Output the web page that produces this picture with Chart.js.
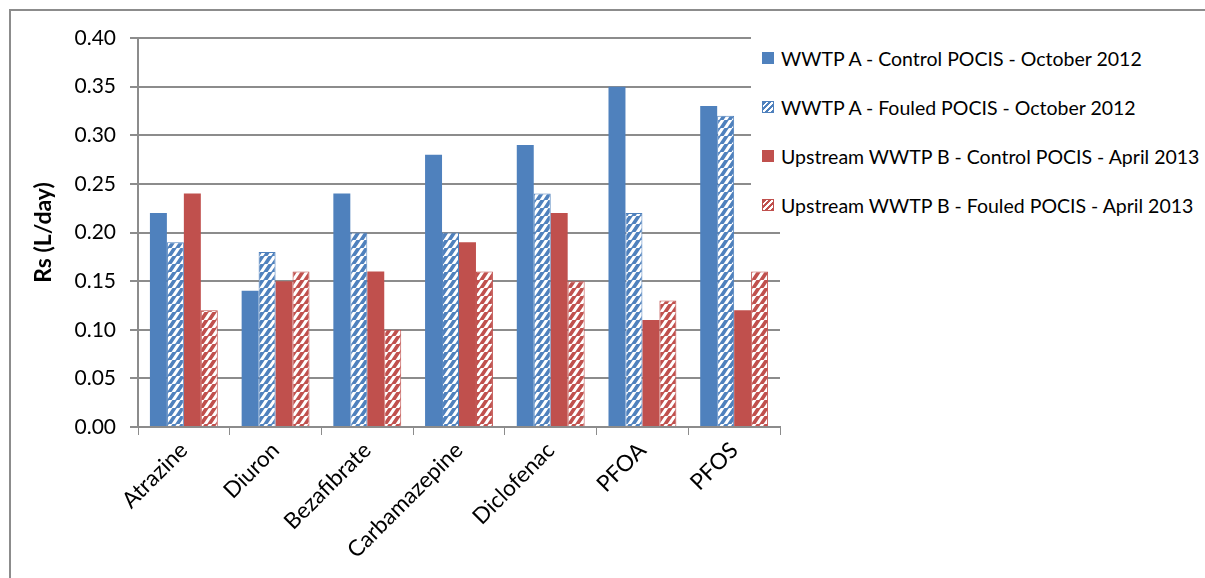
<!DOCTYPE html>
<html lang="en">
<head>
<meta charset="UTF-8">
<title>Rs (L/day) by compound</title>
<script src="https://cdn.jsdelivr.net/npm/chart.js"></script>
<style>
  html, body { margin: 0; padding: 0; background: #fff; overflow: hidden; font-family: Lato, 'Liberation Sans', sans-serif; }
  .edge-top { position: absolute; left: 9px; top: 9px; width: 1196px; height: 2px; background: #8c8c8c; }
  .edge-left { position: absolute; left: 9px; top: 9px; width: 2px; height: 569px; background: #8c8c8c; }
  .wrap { position: absolute; left: 0; top: 0; width: 1205px; height: 578px; }
  .legend {
    position: absolute; left: 751px; top: 30px; width: 454px; height: 196px;
    background: #fff;
  }
  .legend-item {
    position: absolute; left: 11px; height: 24px; display: flex; align-items: center;
    font-size: 19.5px; color: #000; white-space: nowrap;
  }
  .swatch { width: 12px; height: 12px; margin-right: 7px; box-sizing: border-box; }
</style>
</head>
<body>
<div class="edge-top"></div>
<div class="edge-left"></div>
<div class="wrap">
  <canvas id="rsChart" width="1205" height="578"></canvas>
</div>
<div class="legend" id="legend"></div>

<script>
const categories = ['Atrazine', 'Diuron', 'Bezafibrate', 'Carbamazepine', 'Diclofenac', 'PFOA', 'PFOS'];
const seriesNames = [
  'WWTP A - Control POCIS - October 2012',
  'WWTP A - Fouled POCIS - October 2012',
  'Upstream WWTP B - Control POCIS - April 2013',
  'Upstream WWTP B - Fouled POCIS - April 2013'
];
const controlA = [0.22, 0.14, 0.24, 0.28, 0.29, 0.35, 0.33];
const fouledA  = [0.19, 0.18, 0.20, 0.20, 0.24, 0.22, 0.32];
const controlB = [0.24, 0.15, 0.16, 0.19, 0.22, 0.11, 0.12];
const fouledB  = [0.12, 0.16, 0.10, 0.16, 0.15, 0.13, 0.16];
const yTicks = [0, 0.05, 0.10, 0.15, 0.20, 0.25, 0.30, 0.35, 0.40];

const blue = '#4f81bd';
const red = '#c0504d';

// diagonal white stripes on the series colour, like Excel's wide upward diagonal
function stripes(color) {
  const c = document.createElement('canvas');
  c.width = 8; c.height = 8;
  const g = c.getContext('2d');
  g.fillStyle = color;
  g.fillRect(0, 0, 8, 8);
  g.strokeStyle = '#ffffff';
  g.lineWidth = 3;
  g.beginPath();
  for (let k = -8; k <= 16; k += 8) {
    g.moveTo(k - 8, 8 + 8);
    g.lineTo(k + 8, -8 + 8 - 8);
  }
  g.stroke();
  return g.createPattern(c, 'repeat');
}

const ctx = document.getElementById('rsChart').getContext('2d');
const fills = [blue, stripes(blue), red, stripes(red)];
const borders = [blue, blue, red, red];
const values = [controlA, fouledA, controlB, fouledB];

const datasets = values.map((v, i) => ({
  label: seriesNames[i],
  data: v,
  backgroundColor: fills[i],
  borderColor: borders[i],
  borderWidth: i % 2 === 1 ? 1 : 0,
  categoryPercentage: 0.74,
  barPercentage: 1.0
}));

new Chart(ctx, {
  type: 'bar',
  data: { labels: categories, datasets: datasets },
  options: {
    responsive: false,
    animation: false,
    layout: { padding: { left: 30, right: 425, top: 38, bottom: 0 } },
    plugins: {
      legend: { display: false },
      tooltip: { enabled: false }
    },
    scales: {
      x: {
        grid: { display: true, drawOnChartArea: false, drawTicks: true, tickLength: 8, color: '#8c8c8c', offset: true },
        border: { color: '#8c8c8c', width: 2 },
        ticks: {
          color: '#000',
          font: { family: 'Lato', size: 22.5 },
          minRotation: 45, maxRotation: 45,
          padding: 2
        },
        afterFit: function (scale) { scale.height = 151; }
      },
      y: {
        min: 0, max: 0.4,
        afterBuildTicks: function (scale) { scale.ticks = yTicks.map(v => ({ value: v })); },
        grid: { color: '#8c8c8c', lineWidth: 2, tickLength: 8 },
        border: { color: '#8c8c8c', width: 2 },
        ticks: {
          color: '#000',
          font: { family: 'Lato', size: 21 },
          padding: 14,
          callback: function (v) { return Number(v).toFixed(2); }
        },
        title: {
          display: true,
          text: 'Rs (L/day)',
          color: '#000',
          font: { family: 'Lato', size: 23, weight: 'bold' },
          padding: { top: 0, bottom: 9 }
        },
        afterFit: function (scale) { scale.width = 108; }
      }
    }
  }
});

// legend drawn over the top-right of the plot with a white background
const legendEl = document.getElementById('legend');
const swatchCss = [
  'background:' + blue,
  'border:1px solid ' + blue + ';background:repeating-linear-gradient(-45deg,' + blue + ' 0 2px,#fff 2px 4px)',
  'background:' + red,
  'border:1px solid ' + red + ';background:repeating-linear-gradient(-45deg,' + red + ' 0 2px,#fff 2px 4px)'
];
const rowCenters = [58, 107, 156, 205];
seriesNames.forEach((name, i) => {
  const item = document.createElement('div');
  item.className = 'legend-item';
  item.style.top = (rowCenters[i] - 30 - 12) + 'px';
  const sw = document.createElement('span');
  sw.className = 'swatch';
  sw.style.cssText = swatchCss[i];
  const txt = document.createElement('span');
  txt.textContent = name;
  item.appendChild(sw);
  item.appendChild(txt);
  legendEl.appendChild(item);
});
</script>
</body>
</html>
